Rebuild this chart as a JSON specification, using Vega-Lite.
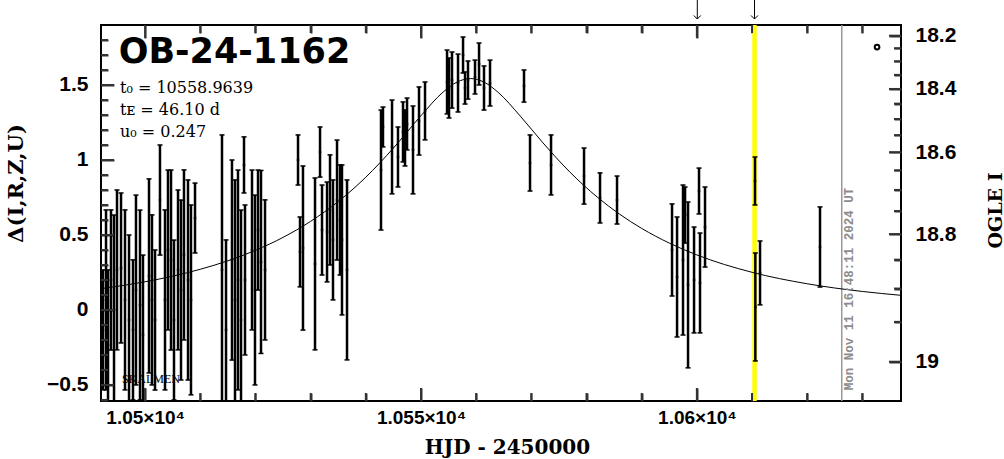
{
  "$schema": "https://vega.github.io/schema/vega-lite/v6.json",
  "width": 800,
  "height": 376,
  "autosize": {"type": "none"},
  "padding": {"left": 101, "top": 25, "right": 103, "bottom": 58},
  "background": "white",
  "config": {
    "view": {"stroke": "black", "strokeWidth": 2},
    "axis": {"domain": false, "grid": false, "tickWidth": 2, "zindex": 2, "labelColor": "black", "titleColor": "black", "labelFlush": false, "labelOverlap": false, "labelBound": false}
  },
  "datasets": {
    "obs": [
      {"t": 10492.36, "d": -0.133, "lo": -0.533, "hi": 0.267},
      {"t": 10492.91, "d": 0.067, "lo": -0.533, "hi": 0.667},
      {"t": 10493.27, "d": -0.233, "lo": -0.733, "hi": 0.267},
      {"t": 10493.81, "d": 0.2, "lo": -0.267, "hi": 0.667},
      {"t": 10494.36, "d": 0.0, "lo": -0.633, "hi": 0.633},
      {"t": 10494.9, "d": 0.267, "lo": -0.266, "hi": 0.8},
      {"t": 10495.63, "d": 0.28, "lo": -0.22, "hi": 0.78},
      {"t": 10496.35, "d": 0.067, "lo": -0.533, "hi": 0.667},
      {"t": 10497.08, "d": -0.067, "lo": -0.634, "hi": 0.5},
      {"t": 10497.8, "d": -0.133, "lo": -0.6, "hi": 0.334},
      {"t": 10498.34, "d": 0.133, "lo": -0.5, "hi": 0.766},
      {"t": 10499.07, "d": 0.033, "lo": -0.6, "hi": 0.666},
      {"t": 10499.61, "d": -0.167, "lo": -0.7, "hi": 0.366},
      {"t": 10500.7, "d": 0.227, "lo": -0.42, "hi": 0.874},
      {"t": 10501.24, "d": 0.067, "lo": -0.5, "hi": 0.634},
      {"t": 10501.79, "d": -0.067, "lo": -0.534, "hi": 0.4},
      {"t": 10502.69, "d": 0.733, "lo": 0.366, "hi": 1.1},
      {"t": 10503.6, "d": 0.067, "lo": -0.533, "hi": 0.667},
      {"t": 10504.14, "d": 0.4, "lo": -0.133, "hi": 0.933},
      {"t": 10504.69, "d": 0.333, "lo": -0.267, "hi": 0.933},
      {"t": 10505.23, "d": -0.067, "lo": -0.6, "hi": 0.466},
      {"t": 10505.96, "d": 0.267, "lo": -0.266, "hi": 0.8},
      {"t": 10506.5, "d": 0.133, "lo": -0.467, "hi": 0.733},
      {"t": 10507.04, "d": 0.367, "lo": -0.2, "hi": 0.934},
      {"t": 10507.77, "d": 0.2, "lo": -0.467, "hi": 0.867},
      {"t": 10508.31, "d": 0.067, "lo": -0.566, "hi": 0.7},
      {"t": 10509.04, "d": 0.613, "lo": 0.38, "hi": 0.846},
      {"t": 10513.93, "d": 0.267, "lo": -0.633, "hi": 1.167},
      {"t": 10514.66, "d": -0.133, "lo": -0.733, "hi": 0.467},
      {"t": 10515.74, "d": 0.333, "lo": -0.334, "hi": 1.0},
      {"t": 10516.29, "d": 0.067, "lo": -0.733, "hi": 0.867},
      {"t": 10516.83, "d": 0.2, "lo": -0.533, "hi": 0.933},
      {"t": 10517.38, "d": -0.067, "lo": -0.8, "hi": 0.666},
      {"t": 10517.92, "d": 0.967, "lo": 0.78, "hi": 1.154},
      {"t": 10518.1, "d": 0.2, "lo": -0.3, "hi": 0.7},
      {"t": 10519.37, "d": 0.4, "lo": -0.133, "hi": 0.933},
      {"t": 10519.91, "d": 0.133, "lo": -0.5, "hi": 0.766},
      {"t": 10520.46, "d": 0.533, "lo": 0.133, "hi": 0.933},
      {"t": 10521.0, "d": 0.32, "lo": -0.29, "hi": 0.93},
      {"t": 10521.73, "d": 0.267, "lo": -0.2, "hi": 0.734},
      {"t": 10527.71, "d": 1.0, "lo": 0.833, "hi": 1.167},
      {"t": 10528.07, "d": 0.387, "lo": 0.154, "hi": 0.62},
      {"t": 10528.61, "d": 0.413, "lo": -0.134, "hi": 0.96},
      {"t": 10530.79, "d": 0.307, "lo": -0.266, "hi": 0.88},
      {"t": 10531.7, "d": 1.053, "lo": 0.886, "hi": 1.22},
      {"t": 10532.06, "d": 0.533, "lo": 0.233, "hi": 0.833},
      {"t": 10532.97, "d": 0.52, "lo": 0.187, "hi": 0.853},
      {"t": 10533.51, "d": 0.667, "lo": 0.3, "hi": 1.034},
      {"t": 10534.05, "d": 0.467, "lo": 0.067, "hi": 0.867},
      {"t": 10534.78, "d": 0.733, "lo": 0.333, "hi": 1.133},
      {"t": 10535.32, "d": 0.6, "lo": 0.233, "hi": 0.967},
      {"t": 10535.68, "d": 0.467, "lo": -0.033, "hi": 0.967},
      {"t": 10536.59, "d": 0.267, "lo": -0.333, "hi": 0.867},
      {"t": 10542.75, "d": 0.933, "lo": 0.533, "hi": 1.333},
      {"t": 10543.11, "d": 1.22, "lo": 1.087, "hi": 1.353},
      {"t": 10544.75, "d": 1.087, "lo": 0.774, "hi": 1.4},
      {"t": 10545.83, "d": 1.02, "lo": 0.82, "hi": 1.22},
      {"t": 10546.74, "d": 1.187, "lo": 0.987, "hi": 1.387},
      {"t": 10547.1, "d": 1.147, "lo": 0.96, "hi": 1.334},
      {"t": 10547.47, "d": 1.24, "lo": 1.067, "hi": 1.413},
      {"t": 10548.55, "d": 1.067, "lo": 0.774, "hi": 1.36},
      {"t": 10549.64, "d": 1.26, "lo": 1.033, "hi": 1.487},
      {"t": 10550.73, "d": 1.327, "lo": 1.134, "hi": 1.52},
      {"t": 10554.72, "d": 1.52, "lo": 1.307, "hi": 1.733},
      {"t": 10555.08, "d": 1.48, "lo": 1.28, "hi": 1.68},
      {"t": 10555.62, "d": 1.533, "lo": 1.346, "hi": 1.72},
      {"t": 10556.71, "d": 1.513, "lo": 1.32, "hi": 1.706},
      {"t": 10557.62, "d": 1.7, "lo": 1.58, "hi": 1.82},
      {"t": 10557.98, "d": 1.48, "lo": 1.373, "hi": 1.587},
      {"t": 10558.52, "d": 1.533, "lo": 1.406, "hi": 1.66},
      {"t": 10559.79, "d": 1.553, "lo": 1.44, "hi": 1.666},
      {"t": 10560.52, "d": 1.64, "lo": 1.5, "hi": 1.78},
      {"t": 10561.42, "d": 1.48, "lo": 1.333, "hi": 1.627},
      {"t": 10562.51, "d": 1.513, "lo": 1.36, "hi": 1.666},
      {"t": 10568.67, "d": 1.493, "lo": 1.386, "hi": 1.6},
      {"t": 10569.76, "d": 0.98, "lo": 0.793, "hi": 1.167},
      {"t": 10573.57, "d": 0.967, "lo": 0.767, "hi": 1.167},
      {"t": 10579.55, "d": 0.893, "lo": 0.706, "hi": 1.08},
      {"t": 10582.45, "d": 0.747, "lo": 0.58, "hi": 0.914},
      {"t": 10585.53, "d": 0.733, "lo": 0.573, "hi": 0.893},
      {"t": 10595.5, "d": 0.4, "lo": 0.093, "hi": 0.707},
      {"t": 10596.41, "d": 0.22, "lo": -0.18, "hi": 0.62},
      {"t": 10597.49, "d": 0.333, "lo": -0.167, "hi": 0.833},
      {"t": 10597.86, "d": 0.633, "lo": 0.446, "hi": 0.82},
      {"t": 10598.4, "d": 0.167, "lo": -0.386, "hi": 0.72},
      {"t": 10599.49, "d": 0.2, "lo": -0.153, "hi": 0.553},
      {"t": 10600.39, "d": 0.793, "lo": 0.64, "hi": 0.946},
      {"t": 10600.57, "d": 0.18, "lo": -0.153, "hi": 0.513},
      {"t": 10601.48, "d": 0.553, "lo": 0.286, "hi": 0.82},
      {"t": 10610.54, "d": 0.86, "lo": 0.7, "hi": 1.02},
      {"t": 10610.6, "d": 0.02, "lo": -0.34, "hi": 0.38},
      {"t": 10611.45, "d": 0.247, "lo": 0.034, "hi": 0.46},
      {"t": 10622.32, "d": 0.42, "lo": 0.153, "hi": 0.687}
    ],
    "model": [
      {"t": 10492, "d": 0.1418},
      {"t": 10500, "d": 0.1880},
      {"t": 10505, "d": 0.2254},
      {"t": 10510, "d": 0.2713},
      {"t": 10515, "d": 0.3278},
      {"t": 10520, "d": 0.3977},
      {"t": 10525, "d": 0.4840},
      {"t": 10530, "d": 0.5909},
      {"t": 10535, "d": 0.7231},
      {"t": 10540, "d": 0.8852},
      {"t": 10545, "d": 1.0795},
      {"t": 10550, "d": 1.2955},
      {"t": 10554, "d": 1.4528},
      {"t": 10556.5, "d": 1.5189},
      {"t": 10559, "d": 1.5430},
      {"t": 10561.5, "d": 1.5176},
      {"t": 10564, "d": 1.4504},
      {"t": 10568, "d": 1.2925},
      {"t": 10572, "d": 1.1187},
      {"t": 10577, "d": 0.9189},
      {"t": 10582, "d": 0.7508},
      {"t": 10586, "d": 0.6386},
      {"t": 10590, "d": 0.5438},
      {"t": 10595, "d": 0.4460},
      {"t": 10600, "d": 0.3669},
      {"t": 10610, "d": 0.2511},
      {"t": 10620, "d": 0.1746},
      {"t": 10630, "d": 0.1234},
      {"t": 10637, "d": 0.0976}
    ],
    "xmaj": [{"v": 10500}, {"v": 10550}, {"v": 10600}],
    "xmin": [{"v": 10510}, {"v": 10520}, {"v": 10530}, {"v": 10540}, {"v": 10560}, {"v": 10570}, {"v": 10580}, {"v": 10590}, {"v": 10610}, {"v": 10620}, {"v": 10630}],
    "ymaj": [{"v": -0.5}, {"v": 0}, {"v": 0.5}, {"v": 1}, {"v": 1.5}],
    "ymin": [{"v": -0.6}, {"v": -0.4}, {"v": -0.3}, {"v": -0.2}, {"v": -0.1}, {"v": 0.1}, {"v": 0.2}, {"v": 0.3}, {"v": 0.4}, {"v": 0.6}, {"v": 0.7}, {"v": 0.8}, {"v": 0.9}, {"v": 1.1}, {"v": 1.2}, {"v": 1.3}, {"v": 1.4}, {"v": 1.6}, {"v": 1.7}, {"v": 1.8}],
    "rmaj": [{"v": 1.8289}, {"v": 1.4735}, {"v": 1.0515}, {"v": 0.5058}, {"v": -0.3451}],
    "rmin": [{"v": 1.7446}, {"v": 1.6575}, {"v": 1.5673}, {"v": 1.3757}, {"v": 1.2733}, {"v": 1.1655}, {"v": 0.9302}, {"v": 0.8002}, {"v": 0.6596}, {"v": 0.3352}, {"v": 0.1428}, {"v": -0.0795}]
  },
  "layer": [
    {
      "data": {"values": [{"t": 10610.45}]},
      "mark": {"type": "rule", "color": "#ffff00", "strokeWidth": 4.5},
      "encoding": {
        "x": {"field": "t", "type": "quantitative", "scale": {"domain": [10492, 10637], "nice": false, "zero": false},
          "axis": {"orient": "bottom", "values": [10500, 10550, 10600], "ticks": true, "tickSize": -13, "tickColor": "#333333", "labelExpr": "(datum.value/10000) + '×10⁴'", "labelFont": "Liberation Sans", "labelFontSize": 19, "labelFontWeight": "bold", "labelPadding": 20,
            "title": "HJD - 2450000", "titleFont": "DejaVu Serif", "titleFontSize": 20, "titleFontWeight": "bold", "titleX": 406, "titleY": 46, "titleBaseline": "middle", "titleAlign": "center"}}
      }
    },
    {
      "data": {"values": [{"t": 10626.26}]},
      "mark": {"type": "rule", "color": "#999999", "strokeWidth": 1.5},
      "encoding": {
        "x": {"field": "t", "type": "quantitative", "scale": {"domain": [10492, 10637], "nice": false, "zero": false},
          "axis": {"orient": "bottom", "values": [10510, 10520, 10530, 10540, 10560, 10570, 10580, 10590, 10610, 10620, 10630], "labels": false, "ticks": true, "tickSize": -8, "tickColor": "#333333", "title": null}}
      }
    },
    {
      "data": {"name": "model"},
      "mark": {"type": "line", "color": "black", "strokeWidth": 1, "interpolate": "monotone", "clip": true},
      "encoding": {
        "x": {"field": "t", "type": "quantitative", "scale": {"domain": [10492, 10637], "nice": false, "zero": false},
          "axis": {"orient": "top", "values": [10500, 10550, 10600], "labels": false, "ticks": true, "tickSize": -13, "tickColor": "#333333", "title": null}},
        "y": {"field": "d", "type": "quantitative", "scale": {"domain": [-0.607, 1.9], "nice": false, "zero": false},
          "axis": {"orient": "left", "values": [-0.5, 0, 0.5, 1, 1.5], "format": "~g", "ticks": true, "tickSize": -13, "tickColor": "#333333", "labelPadding": 26, "labelFont": "Liberation Sans", "labelFontSize": 21, "labelFontWeight": "bold",
            "title": "Δ(I,R,Z,U)", "titleFont": "DejaVu Serif", "titleFontSize": 21, "titleFontWeight": "bold", "titleAngle": 270, "titleX": -85, "titleY": 158, "titleBaseline": "middle", "titleAlign": "center"}}
      }
    },
    {
      "data": {"name": "obs"},
      "mark": {"type": "rule", "color": "black", "strokeWidth": 2.5, "clip": true},
      "encoding": {
        "x": {"field": "t", "type": "quantitative", "scale": {"domain": [10492, 10637], "nice": false, "zero": false},
          "axis": {"orient": "top", "values": [10510, 10520, 10530, 10540, 10560, 10570, 10580, 10590, 10610, 10620, 10630], "labels": false, "ticks": true, "tickSize": -8, "tickColor": "#333333", "title": null}},
        "y": {"field": "lo", "type": "quantitative", "scale": {"domain": [-0.607, 1.9], "nice": false, "zero": false},
          "axis": {"orient": "left", "values": [-0.6, -0.4, -0.3, -0.2, -0.1, 0.1, 0.2, 0.3, 0.4, 0.6, 0.7, 0.8, 0.9, 1.1, 1.2, 1.3, 1.4, 1.6, 1.7, 1.8], "labels": false, "ticks": true, "tickSize": -7, "tickColor": "#333333", "title": null}},
        "y2": {"field": "hi"}
      }
    },
    {
      "data": {"name": "obs"},
      "mark": {"type": "tick", "orient": "horizontal", "color": "black", "size": 5, "thickness": 1.5, "opacity": 1, "clip": true},
      "encoding": {
        "x": {"field": "t", "type": "quantitative", "scale": {"domain": [10492, 10637], "nice": false, "zero": false}, "axis": null},
        "y": {"field": "lo", "type": "quantitative", "scale": {"domain": [-0.607, 1.9], "nice": false, "zero": false}, "axis": null}
      }
    },
    {
      "data": {"name": "obs"},
      "mark": {"type": "tick", "orient": "horizontal", "color": "black", "size": 5, "thickness": 1.5, "opacity": 1, "clip": true},
      "encoding": {
        "x": {"field": "t", "type": "quantitative", "scale": {"domain": [10492, 10637], "nice": false, "zero": false}, "axis": null},
        "y": {"field": "hi", "type": "quantitative", "scale": {"domain": [-0.607, 1.9], "nice": false, "zero": false}, "axis": null}
      }
    },
    {
      "data": {"name": "obs"},
      "mark": {"type": "point", "shape": "square", "filled": true, "color": "black", "size": 6, "opacity": 1, "clip": true},
      "encoding": {
        "x": {"field": "t", "type": "quantitative", "scale": {"domain": [10492, 10637], "nice": false, "zero": false}, "axis": null},
        "y": {"field": "d", "type": "quantitative", "scale": {"domain": [-0.607, 1.9], "nice": false, "zero": false},
          "axis": {"orient": "right", "values": [1.8289, 1.4735, 1.0515, 0.5058, -0.3451], "ticks": true, "tickSize": -12, "tickColor": "#333333", "labelPadding": 26, "labelFont": "Liberation Sans", "labelFontSize": 21, "labelFontWeight": "bold",
            "labelExpr": "datum.value > 1.8 ? '18.2' : datum.value > 1.4 ? '18.4' : datum.value > 1 ? '18.6' : datum.value > 0.4 ? '18.8' : '19'",
            "title": "OGLE I", "titleFont": "DejaVu Serif", "titleFontSize": 19, "titleFontWeight": "bold", "titleAngle": 270, "titleX": 94, "titleY": 185, "titleBaseline": "middle", "titleAlign": "center"}}
      }
    },
    {
      "data": {"values": [{"t": 10632.66, "d": 1.753}]},
      "mark": {"type": "point", "shape": "circle", "filled": false, "color": "black", "strokeWidth": 2, "size": 22, "opacity": 1},
      "encoding": {
        "x": {"field": "t", "type": "quantitative", "scale": {"domain": [10492, 10637], "nice": false, "zero": false}, "axis": null},
        "y": {"field": "d", "type": "quantitative", "scale": {"domain": [-0.607, 1.9], "nice": false, "zero": false},
          "axis": {"orient": "right", "values": [1.7446, 1.6575, 1.5673, 1.3757, 1.2733, 1.1655, 0.9302, 0.8002, 0.6596, 0.3352, 0.1428, -0.0795], "labels": false, "ticks": true, "tickSize": -7, "tickColor": "#333333", "title": null}}
      }
    },
    {
      "data": {"values": [
        {"t": 10495.44, "d": 1.48, "label": "t₀ = 10558.9639"},
        {"t": 10495.44, "d": 1.333, "label": "tᴇ = 46.10 d"},
        {"t": 10495.44, "d": 1.187, "label": "u₀ = 0.247"}
      ]},
      "mark": {"type": "text", "align": "left", "baseline": "middle", "font": "DejaVu Serif", "fontSize": 16, "color": "black"},
      "encoding": {
        "x": {"field": "t", "type": "quantitative", "scale": {"domain": [10492, 10637], "nice": false, "zero": false}, "axis": null},
        "y": {"field": "d", "type": "quantitative", "scale": {"domain": [-0.607, 1.9], "nice": false, "zero": false}, "axis": null},
        "text": {"field": "label"}
      }
    },
    {
      "data": {"values": [{"t": 10495.2, "d": 1.72, "label": "OB-24-1162"}]},
      "mark": {"type": "text", "align": "left", "baseline": "middle", "font": "DejaVu Sans", "fontSize": 35, "fontWeight": "bold", "color": "black"},
      "encoding": {
        "x": {"field": "t", "type": "quantitative", "scale": {"domain": [10492, 10637], "nice": false, "zero": false}, "axis": null},
        "y": {"field": "d", "type": "quantitative", "scale": {"domain": [-0.607, 1.9], "nice": false, "zero": false}, "axis": null},
        "text": {"field": "label"}
      }
    },
    {
      "data": {"values": [{"t": 10495.8, "d": -0.46, "label": "SKALMEN"}]},
      "mark": {"type": "text", "align": "left", "baseline": "middle", "font": "Liberation Serif", "fontSize": 12, "color": "black"},
      "encoding": {
        "x": {"field": "t", "type": "quantitative", "scale": {"domain": [10492, 10637], "nice": false, "zero": false}, "axis": null},
        "y": {"field": "d", "type": "quantitative", "scale": {"domain": [-0.607, 1.9], "nice": false, "zero": false}, "axis": null},
        "text": {"field": "label"}
      }
    },
    {
      "data": {"values": [{"t": 10627.49, "d": 0.14, "label": "Mon Nov 11 16:48:11 2024 UT"}]},
      "mark": {"type": "text", "align": "center", "baseline": "middle", "angle": 270, "font": "Liberation Mono", "fontSize": 12.5, "fontWeight": "bold", "color": "#8c8c8c"},
      "encoding": {
        "x": {"field": "t", "type": "quantitative", "scale": {"domain": [10492, 10637], "nice": false, "zero": false}, "axis": null},
        "y": {"field": "d", "type": "quantitative", "scale": {"domain": [-0.607, 1.9], "nice": false, "zero": false}, "axis": null},
        "text": {"field": "label"}
      }
    },
    {
      "data": {"values": [{"t": 10600.08}, {"t": 10610.45}]},
      "mark": {"type": "rule", "color": "black", "strokeWidth": 1, "clip": false},
      "encoding": {
        "x": {"field": "t", "type": "quantitative", "scale": {"domain": [10492, 10637], "nice": false, "zero": false}, "axis": null},
        "y": {"datum": 2.067, "type": "quantitative", "scale": {"domain": [-0.607, 1.9], "nice": false, "zero": false}, "axis": null},
        "y2": {"datum": 1.94}
      }
    },
    {
      "data": {"values": [{"t": 10600.08}, {"t": 10610.45}]},
      "mark": {"type": "point", "shape": "M-1,-1L0,0L1,-1", "filled": false, "color": "black", "strokeWidth": 1, "size": 50, "opacity": 1, "clip": false},
      "encoding": {
        "x": {"field": "t", "type": "quantitative", "scale": {"domain": [10492, 10637], "nice": false, "zero": false}, "axis": null},
        "y": {"datum": 1.94, "type": "quantitative", "scale": {"domain": [-0.607, 1.9], "nice": false, "zero": false}, "axis": null}
      }
    },
    {
      "data": {"name": "xmaj"},
      "mark": {"type": "rule", "color": "#333333", "strokeWidth": 2},
      "encoding": {
        "x": {"field": "v", "type": "quantitative", "scale": {"domain": [10492, 10637], "nice": false, "zero": false}, "axis": null},
        "y": {"datum": -0.607, "type": "quantitative", "scale": {"domain": [-0.607, 1.9], "nice": false, "zero": false}, "axis": null},
        "y2": {"datum": -0.5203}
      }
    },
    {
      "data": {"name": "xmaj"},
      "mark": {"type": "rule", "color": "#333333", "strokeWidth": 2},
      "encoding": {
        "x": {"field": "v", "type": "quantitative", "scale": {"domain": [10492, 10637], "nice": false, "zero": false}, "axis": null},
        "y": {"datum": 1.9, "type": "quantitative", "scale": {"domain": [-0.607, 1.9], "nice": false, "zero": false}, "axis": null},
        "y2": {"datum": 1.8133}
      }
    },
    {
      "data": {"name": "xmin"},
      "mark": {"type": "rule", "color": "#333333", "strokeWidth": 2},
      "encoding": {
        "x": {"field": "v", "type": "quantitative", "scale": {"domain": [10492, 10637], "nice": false, "zero": false}, "axis": null},
        "y": {"datum": -0.607, "type": "quantitative", "scale": {"domain": [-0.607, 1.9], "nice": false, "zero": false}, "axis": null},
        "y2": {"datum": -0.5537}
      }
    },
    {
      "data": {"name": "xmin"},
      "mark": {"type": "rule", "color": "#333333", "strokeWidth": 2},
      "encoding": {
        "x": {"field": "v", "type": "quantitative", "scale": {"domain": [10492, 10637], "nice": false, "zero": false}, "axis": null},
        "y": {"datum": 1.9, "type": "quantitative", "scale": {"domain": [-0.607, 1.9], "nice": false, "zero": false}, "axis": null},
        "y2": {"datum": 1.8467}
      }
    },
    {
      "data": {"name": "ymaj"},
      "mark": {"type": "rule", "color": "#333333", "strokeWidth": 2},
      "encoding": {
        "y": {"field": "v", "type": "quantitative", "scale": {"domain": [-0.607, 1.9], "nice": false, "zero": false}, "axis": null},
        "x": {"datum": 10492, "type": "quantitative", "scale": {"domain": [10492, 10637], "nice": false, "zero": false}, "axis": null},
        "x2": {"datum": 10494.36}
      }
    },
    {
      "data": {"name": "ymin"},
      "mark": {"type": "rule", "color": "#333333", "strokeWidth": 2},
      "encoding": {
        "y": {"field": "v", "type": "quantitative", "scale": {"domain": [-0.607, 1.9], "nice": false, "zero": false}, "axis": null},
        "x": {"datum": 10492, "type": "quantitative", "scale": {"domain": [10492, 10637], "nice": false, "zero": false}, "axis": null},
        "x2": {"datum": 10493.27}
      }
    },
    {
      "data": {"name": "rmaj"},
      "mark": {"type": "rule", "color": "#333333", "strokeWidth": 2},
      "encoding": {
        "y": {"field": "v", "type": "quantitative", "scale": {"domain": [-0.607, 1.9], "nice": false, "zero": false}, "axis": null},
        "x": {"datum": 10637, "type": "quantitative", "scale": {"domain": [10492, 10637], "nice": false, "zero": false}, "axis": null},
        "x2": {"datum": 10634.82}
      }
    },
    {
      "data": {"name": "rmin"},
      "mark": {"type": "rule", "color": "#333333", "strokeWidth": 2},
      "encoding": {
        "y": {"field": "v", "type": "quantitative", "scale": {"domain": [-0.607, 1.9], "nice": false, "zero": false}, "axis": null},
        "x": {"datum": 10637, "type": "quantitative", "scale": {"domain": [10492, 10637], "nice": false, "zero": false}, "axis": null},
        "x2": {"datum": 10635.73}
      }
    }
  ],
  "resolve": {"axis": {"x": "independent", "y": "independent"}}
}
